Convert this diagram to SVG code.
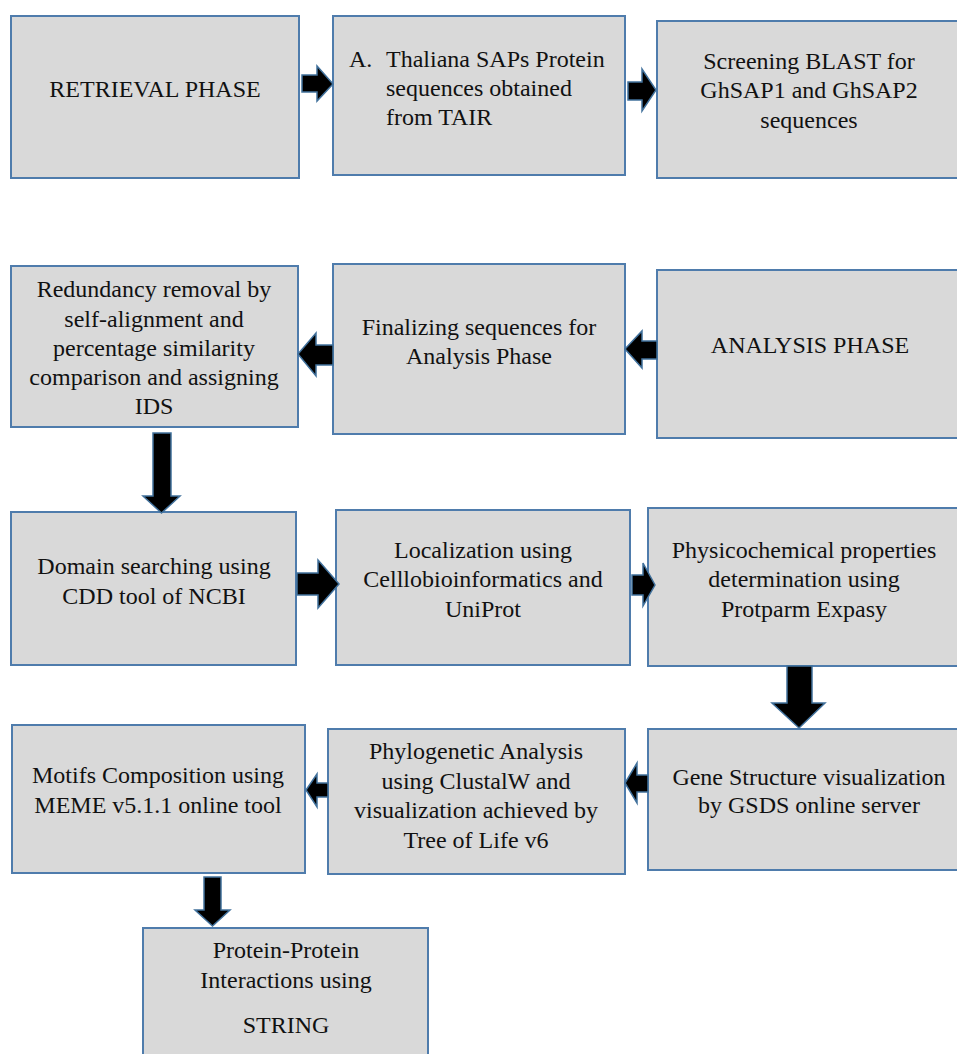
<svg xmlns="http://www.w3.org/2000/svg" width="957" height="1054" viewBox="0 0 957 1054">
<style>
.box{fill:#d9d9d9;stroke:#4f7cac;stroke-width:2}
.arrow{fill:#000;stroke:#41719c;stroke-width:1.5;stroke-linejoin:miter}
.t{font-family:'Liberation Serif','DejaVu Serif',serif;font-size:24px;fill:#111}
.c{text-anchor:middle}
</style>
<rect width="957" height="1054" fill="#fff"/>
<g id="n-retrieval"><rect class="box" x="11" y="16" width="288" height="162"/><text class="t c" x="155" y="97">RETRIEVAL PHASE</text></g>
<g id="n-thaliana"><rect class="box" x="333" y="16" width="292" height="159"/><text class="t" x="349" y="67">A.</text><text class="t" x="386" y="67">Thaliana SAPs Protein</text><text class="t" x="386" y="96">sequences obtained</text><text class="t" x="386" y="125">from TAIR</text></g>
<g id="n-screening"><rect class="box" x="657" y="21" width="303" height="157"/><text class="t c" x="809" y="69">Screening BLAST for</text><text class="t c" x="809" y="98">GhSAP1 and GhSAP2</text><text class="t c" x="809" y="128">sequences</text></g>
<g id="n-redundancy"><rect class="box" x="11" y="266" width="287" height="161"/><text class="t c" x="154" y="297">Redundancy removal by</text><text class="t c" x="154" y="327">self-alignment and</text><text class="t c" x="154" y="356">percentage similarity</text><text class="t c" x="154" y="385">comparison and assigning</text><text class="t c" x="154" y="414">IDS</text></g>
<g id="n-finalizing"><rect class="box" x="333" y="264" width="292" height="170"/><text class="t c" x="479" y="335">Finalizing sequences for</text><text class="t c" x="479" y="364">Analysis Phase</text></g>
<g id="n-analysis"><rect class="box" x="657" y="270" width="303" height="168"/><text class="t c" x="810" y="353">ANALYSIS PHASE</text></g>
<g id="n-domain"><rect class="box" x="11" y="512" width="285" height="153"/><text class="t c" x="154" y="574">Domain searching using</text><text class="t c" x="154" y="604">CDD tool of NCBI</text></g>
<g id="n-localization"><rect class="box" x="336" y="510" width="294" height="155"/><text class="t c" x="483" y="558">Localization using</text><text class="t c" x="483" y="587">Celllobioinformatics and</text><text class="t c" x="483" y="617">UniProt</text></g>
<g id="n-physico"><rect class="box" x="648" y="508" width="312" height="158"/><text class="t c" x="804" y="558">Physicochemical properties</text><text class="t c" x="804" y="587">determination using</text><text class="t c" x="804" y="617">Protparm Expasy</text></g>
<g id="n-gene"><rect class="box" x="648" y="729" width="312" height="141"/><text class="t c" x="809" y="785">Gene Structure visualization</text><text class="t c" x="809" y="813">by GSDS online server</text></g>
<g id="n-phylo"><rect class="box" x="328" y="729" width="297" height="145"/><text class="t c" x="476" y="759">Phylogenetic Analysis</text><text class="t c" x="476" y="789">using ClustalW and</text><text class="t c" x="476" y="818">visualization achieved by</text><text class="t c" x="476" y="848">Tree of Life v6</text></g>
<g id="n-motifs"><rect class="box" x="12" y="725" width="293" height="148"/><text class="t c" x="158" y="783">Motifs Composition using</text><text class="t c" x="158" y="813">MEME v5.1.1 online tool</text></g>
<g id="n-string"><rect class="box" x="143" y="928" width="285" height="132"/><text class="t c" x="286" y="958">Protein-Protein</text><text class="t c" x="286" y="988">Interactions using</text><text class="t c" x="286" y="1033">STRING</text></g>
<g id="connectors">
<polygon class="arrow" points="302,75 317,75 317,66 333,84 317,101 317,92 302,92"/>
<polygon class="arrow" points="628,82 642,82 642,69 656,90 642,111 642,100 628,100"/>
<polygon class="arrow" points="333,345 316,345 316,333 298,354 316,376 316,365 333,365"/>
<polygon class="arrow" points="657,341 642,341 642,331 625,349 642,368 642,359 657,359"/>
<polygon class="arrow" points="153,433 171,433 171,496 180,496 161.5,513 143,496 153,496"/>
<polygon class="arrow" points="297,573 318,573 318,560 339,584 318,608 318,595 297,595"/>
<polygon class="arrow" points="632,575 643,575 643,563 655,585 643,606 643,595 632,595"/>
<polygon class="arrow" points="787,666 812,666 812,703 825,703 799,728 772,703 787,703"/>
<polygon class="arrow" points="648,775 637,775 637,763 625,783 637,803 637,792 648,792"/>
<polygon class="arrow" points="328,783 317,783 317,774 306,790 317,807 317,797 328,797"/>
<polygon class="arrow" points="204,877 221,877 221,910 230,910 212.5,926 195,910 204,910"/>
</g>
</svg>
